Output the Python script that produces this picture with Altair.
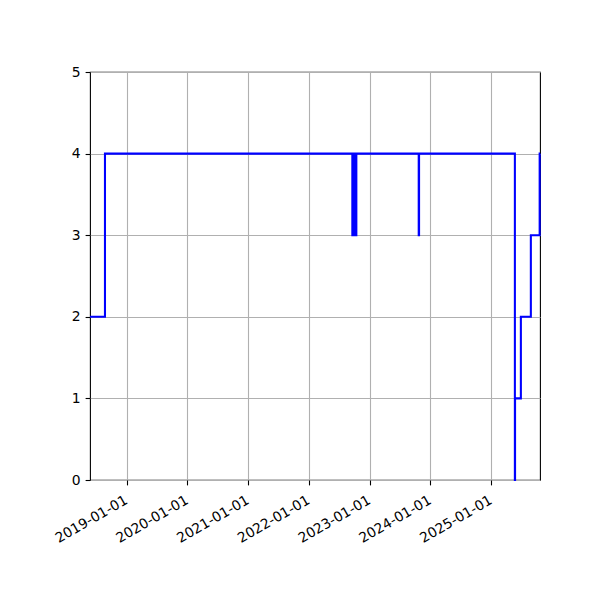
import altair as alt
import pandas as pd

dates = [
    "2018-05-26", "2018-08-24",
    "2022-09-19", "2022-09-21", "2022-09-23", "2022-09-25", "2022-09-27",
    "2022-09-29", "2022-10-01", "2022-10-03", "2022-10-05", "2022-10-07",
    "2022-10-09", "2022-10-11", "2022-10-12", "2022-10-13",
    "2023-10-23", "2023-10-25",
    "2025-05-23", "2025-05-24", "2025-06-28", "2025-08-27", "2025-10-19",
    "2025-10-21",
]
values = [
    2, 4,
    3, 4, 3, 4, 3,
    4, 3, 4, 3, 4,
    3, 4, 3, 4,
    3, 4,
    0, 1, 2, 3, 4,
    4,
]
tick_years = [2019, 2020, 2021, 2022, 2023, 2024, 2025]
y_ticks = [0, 1, 2, 3, 4, 5]

df = pd.DataFrame({"date": dates, "value": values})

x_values = [alt.DateTime(year=y, month=1, date=1, utc=True) for y in tick_years]

chart = alt.Chart(df).mark_line(
    interpolate="step-after", color="#0000ff", strokeWidth=2.08
).encode(
    x=alt.X(
        "date:T",
        scale=alt.Scale(
            type="utc",
            domain=[
                alt.DateTime(year=2018, month=5, date=26, utc=True),
                alt.DateTime(year=2025, month=10, date=21, utc=True),
            ],
        ),
        axis=alt.Axis(
            values=x_values,
            labelExpr="utcFormat(datum.value, '%Y-%m-%d')",
            labelAngle=-30,
            labelAlign="right",
            labelBaseline="top",
            labelOffset=-4,
            labelPadding=8,
            title=None,
        ),
    ),
    y=alt.Y(
        "value:Q",
        scale=alt.Scale(domain=[0, 5], nice=False, zero=True),
        axis=alt.Axis(values=y_ticks, format="d", title=None),
    ),
).properties(
    width=450,
    height=408,
    autosize=alt.AutoSizeParams(type="none"),
    padding={"left": 82, "top": 64, "right": 52, "bottom": 112},
    background="white",
).configure_view(
    stroke="black", strokeWidth=1.1
).configure_axis(
    domain=False,
    grid=True,
    gridColor="#b0b0b0",
    gridWidth=1.1,
    ticks=True,
    tickColor="black",
    tickWidth=1.1,
    tickSize=4.9,
    labelPadding=4.9,
    labelFont="DejaVu Sans",
    labelFontSize=13.9,
    labelColor="black",
    labelOverlap=False,
    labelFlush=False,
    labelLimit=0,
)

chart.save("out.html", embed_options={"renderer": "svg", "actions": False})
